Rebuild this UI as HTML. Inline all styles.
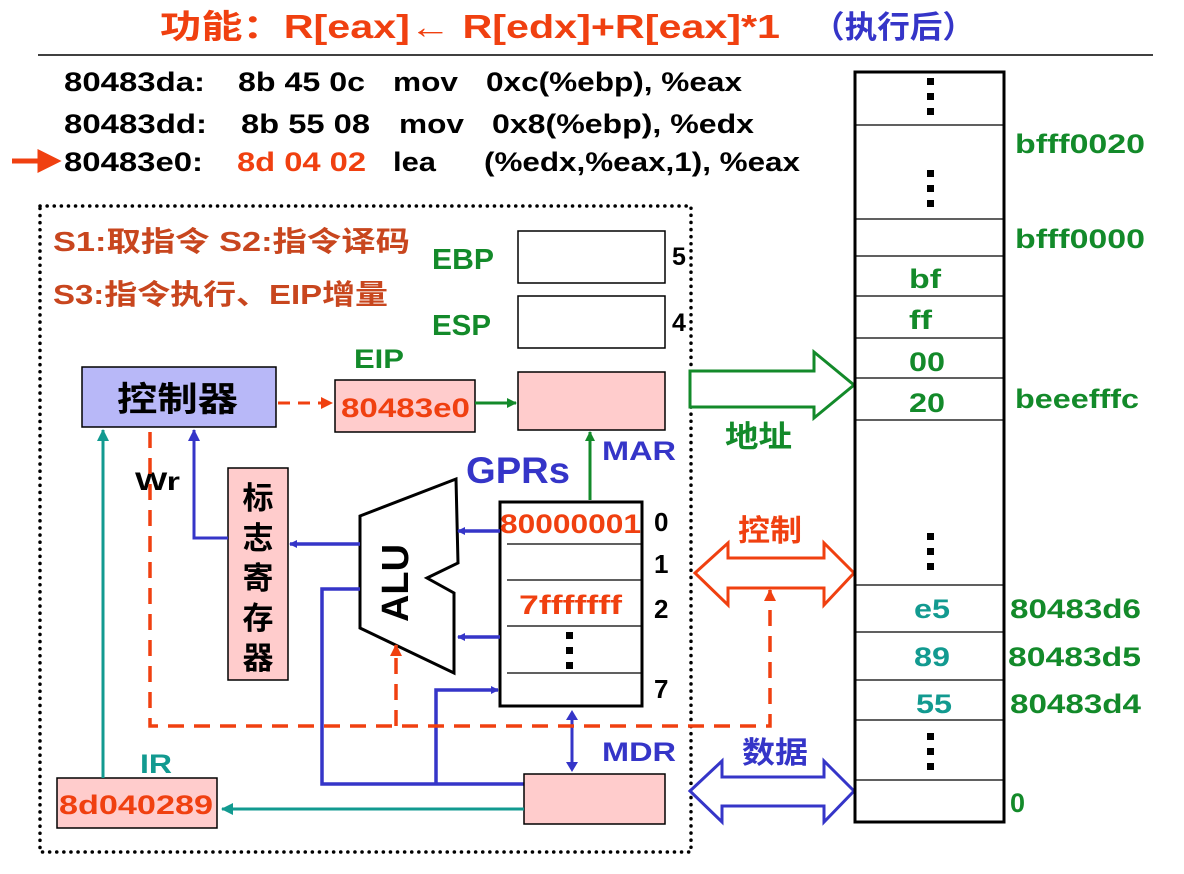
<!DOCTYPE html>
<html><head><meta charset="utf-8"><style>
body{margin:0;background:#fff;}
svg text{font-family:"Liberation Sans","Noto Sans CJK SC",sans-serif;font-weight:bold;}
</style></head><body>
<svg width="1184" height="869" viewBox="0 0 1184 869" xmlns="http://www.w3.org/2000/svg">
<defs>
<marker id="ab" markerWidth="8" markerHeight="8" refX="7" refY="4" orient="auto" markerUnits="userSpaceOnUse"><path d="M0,0 L8,4 L0,8z" fill="#3535c8"/></marker>
<marker id="ag" markerWidth="10" markerHeight="10" refX="9" refY="5" orient="auto" markerUnits="userSpaceOnUse"><path d="M0,0 L10,5 L0,10z" fill="#138a2a"/></marker>
<marker id="at" markerWidth="12" markerHeight="12" refX="11" refY="6" orient="auto" markerUnits="userSpaceOnUse"><path d="M0,0 L12,6 L0,12z" fill="#129a90"/></marker>
<marker id="ar" markerWidth="12" markerHeight="12" refX="11" refY="6" orient="auto" markerUnits="userSpaceOnUse"><path d="M0,0 L12,6 L0,12z" fill="#f04010"/></marker>
<marker id="abl" markerWidth="12" markerHeight="12" refX="11" refY="6" orient="auto" markerUnits="userSpaceOnUse"><path d="M0,0 L12,6 L0,12z" fill="#3535c8"/></marker>
</defs>
<text x="160" y="38" font-size="33" fill="#f04010" textLength="620" lengthAdjust="spacingAndGlyphs">功能：R[eax]← R[edx]+R[eax]*1</text>
<text x="812" y="38" font-size="31" fill="#3535c8" textLength="163" lengthAdjust="spacingAndGlyphs">（执行后）</text>
<line x1="38" y1="55" x2="1153" y2="55" stroke="#000" stroke-width="1.5"/>
<g font-size="27" fill="#000" lengthAdjust="spacingAndGlyphs">
<text x="64" y="91" textLength="141" lengthAdjust="spacingAndGlyphs">80483da:</text><text x="238" y="91" textLength="127" lengthAdjust="spacingAndGlyphs">8b 45 0c</text><text x="393" y="91" textLength="65" lengthAdjust="spacingAndGlyphs">mov</text><text x="486" y="91" textLength="256" lengthAdjust="spacingAndGlyphs">0xc(%ebp), %eax</text>
<text x="64" y="133" textLength="143" lengthAdjust="spacingAndGlyphs">80483dd:</text><text x="241" y="133" textLength="129" lengthAdjust="spacingAndGlyphs">8b 55 08</text><text x="399" y="133" textLength="65" lengthAdjust="spacingAndGlyphs">mov</text><text x="492" y="133" textLength="262" lengthAdjust="spacingAndGlyphs">0x8(%ebp), %edx</text>
<text x="64" y="171" textLength="139" lengthAdjust="spacingAndGlyphs">80483e0:</text><text x="237" y="171" fill="#f04010" textLength="129" lengthAdjust="spacingAndGlyphs">8d 04 02</text><text x="393" y="171" textLength="43" lengthAdjust="spacingAndGlyphs">lea</text><text x="484" y="171" textLength="316" lengthAdjust="spacingAndGlyphs">(%edx,%eax,1), %eax</text>
</g>
<path d="M12,161 L44,161 M40,153 L56,161 L40,169z" stroke="#f04010" stroke-width="5" fill="#f04010"/>
<rect x="40" y="206" width="651" height="646" fill="none" stroke="#000" stroke-width="3.5" stroke-dasharray="0.1 7" stroke-linecap="round"/>
<text x="53" y="251" font-size="28" fill="#c8461e" textLength="357" lengthAdjust="spacingAndGlyphs">S1:取指令   S2:指令译码</text>
<text x="53" y="304" font-size="28" fill="#c8461e" textLength="335" lengthAdjust="spacingAndGlyphs">S3:指令执行、EIP增量</text>
<text x="432" y="269" font-size="29" fill="#138a2a" textLength="62" lengthAdjust="spacingAndGlyphs">EBP</text>
<text x="432" y="335" font-size="29" fill="#138a2a" textLength="59" lengthAdjust="spacingAndGlyphs">ESP</text>
<rect x="518" y="231" width="147" height="52" fill="#fff" stroke="#000" stroke-width="1.5"/>
<rect x="518" y="296" width="147" height="52" fill="#fff" stroke="#000" stroke-width="1.5"/>
<text x="672" y="265" font-size="25" fill="#000">5</text>
<text x="672" y="331" font-size="25" fill="#000">4</text>
<text x="354" y="368" font-size="27" fill="#138a2a" textLength="50" lengthAdjust="spacingAndGlyphs">EIP</text>
<rect x="82" y="367" width="194" height="60" fill="#b8b8f8" stroke="#000" stroke-width="1.5"/>
<text x="117" y="411" font-size="34" fill="#000" textLength="121" lengthAdjust="spacingAndGlyphs">控制器</text>
<line x1="278" y1="403" x2="332" y2="403" stroke="#f04010" stroke-width="3" stroke-dasharray="12 8" marker-end="url(#ar)"/>
<rect x="335" y="380" width="140" height="52" fill="#ffcccc" stroke="#000" stroke-width="1.5"/>
<text x="341" y="417" font-size="27" fill="#f04010" textLength="129" lengthAdjust="spacingAndGlyphs">80483e0</text>
<line x1="475" y1="403" x2="516" y2="403" stroke="#138a2a" stroke-width="3" marker-end="url(#ag)"/>
<rect x="518" y="372" width="147" height="58" fill="#ffcccc" stroke="#000" stroke-width="1.5"/>
<text x="602" y="460" font-size="27" fill="#3535c8" textLength="74" lengthAdjust="spacingAndGlyphs">MAR</text>
<text x="466" y="483" font-size="37" fill="#3535c8" textLength="104" lengthAdjust="spacingAndGlyphs">GPRs</text>
<line x1="590" y1="500" x2="590" y2="432" stroke="#138a2a" stroke-width="3" marker-end="url(#ag)"/>
<rect x="500" y="502" width="142" height="204" fill="#fff" stroke="#000" stroke-width="3"/>
<g stroke="#000" stroke-width="1.2"><line x1="507" y1="544" x2="641" y2="544"/><line x1="507" y1="580" x2="641" y2="580"/><line x1="507" y1="626" x2="641" y2="626"/><line x1="507" y1="673" x2="641" y2="673"/></g>
<text x="500" y="533" font-size="27" fill="#f04010" textLength="141" lengthAdjust="spacingAndGlyphs">80000001</text>
<text x="519" y="614" font-size="27" fill="#f04010" textLength="103" lengthAdjust="spacingAndGlyphs">7fffffff</text>
<rect x="566" y="632" width="7" height="7" fill="#000"/><rect x="566" y="647" width="7" height="7" fill="#000"/><rect x="566" y="662" width="7" height="7" fill="#000"/>
<g font-size="26" fill="#000"><text x="654" y="531">0</text><text x="654" y="573">1</text><text x="654" y="618">2</text><text x="654" y="698">7</text></g>
<path d="M360,516 L456,479 L458,563 L427,578 L454,593 L454,673 L360,628 Z" fill="#fff" stroke="#000" stroke-width="3"/>
<text transform="translate(408,622) rotate(-90)" font-size="38" fill="#000" textLength="78" lengthAdjust="spacingAndGlyphs">ALU</text>
<line x1="500" y1="531" x2="458" y2="531" stroke="#3535c8" stroke-width="3.5" marker-end="url(#ab)"/>
<line x1="500" y1="637" x2="458" y2="637" stroke="#3535c8" stroke-width="3.5" marker-end="url(#ab)"/>
<line x1="360" y1="544" x2="290" y2="544" stroke="#3535c8" stroke-width="3.5" marker-end="url(#ab)"/>
<rect x="228" y="468" width="60" height="212" fill="#ffcccc" stroke="#000" stroke-width="1.5"/>
<g font-size="31" fill="#000" text-anchor="middle"><text x="258" y="509">标</text><text x="258" y="549">志</text><text x="258" y="589">寄</text><text x="258" y="629">存</text><text x="258" y="669">器</text></g>
<polyline points="228,538 194,538 194,430" fill="none" stroke="#3535c8" stroke-width="3" marker-end="url(#abl)"/>
<text x="135" y="490" font-size="25" fill="#000" textLength="45" lengthAdjust="spacingAndGlyphs">Wr</text>
<polyline points="360,589 322,589 322,784 524,784" fill="none" stroke="#3535c8" stroke-width="3.5"/>
<polyline points="436,784 436,690 498,690" fill="none" stroke="#3535c8" stroke-width="3.5" marker-end="url(#ab)"/>
<rect x="524" y="774" width="141" height="50" fill="#ffcccc" stroke="#000" stroke-width="1.5"/>
<text x="602" y="761" font-size="27" fill="#3535c8" textLength="74" lengthAdjust="spacingAndGlyphs">MDR</text>
<line x1="572" y1="720" x2="572" y2="762" stroke="#3535c8" stroke-width="3"/>
<path d="M566,720 L572,710 L578,720z M566,762 L572,772 L578,762z" fill="#3535c8"/>
<rect x="57" y="778" width="160" height="50" fill="#ffcccc" stroke="#000" stroke-width="1.5"/>
<text x="59" y="814" font-size="27" fill="#f04010" textLength="154" lengthAdjust="spacingAndGlyphs">8d040289</text>
<text x="140" y="773" font-size="27" fill="#129a90" textLength="32" lengthAdjust="spacingAndGlyphs">IR</text>
<line x1="524" y1="809" x2="222" y2="809" stroke="#129a90" stroke-width="3" marker-end="url(#at)"/>
<line x1="103" y1="778" x2="103" y2="430" stroke="#129a90" stroke-width="3" marker-end="url(#at)"/>
<polyline points="150,432 150,726 770,726 770,590" fill="none" stroke="#f04010" stroke-width="3.5" stroke-dasharray="16 10" marker-end="url(#ar)"/>
<line x1="396" y1="726" x2="396" y2="645" stroke="#f04010" stroke-width="3.5" stroke-dasharray="16 10" marker-end="url(#ar)"/>
<path d="M690,371 L814,371 L814,352 L854,385 L814,418 L814,407 L690,407 Z" fill="#fff" stroke="#138a2a" stroke-width="3"/>
<text x="725" y="447" font-size="30" fill="#138a2a" textLength="67" lengthAdjust="spacingAndGlyphs">地址</text>
<path d="M695,573 L728,543 L728,558 L824,558 L824,543 L854,573 L824,605 L824,588 L728,588 L728,605 Z" fill="#fff" stroke="#f04010" stroke-width="3"/>
<text x="738" y="541" font-size="30" fill="#f04010" textLength="64" lengthAdjust="spacingAndGlyphs">控制</text>
<path d="M690,791 L722,761 L722,777 L824,777 L824,761 L854,791 L824,822 L824,806 L722,806 L722,822 Z" fill="#fff" stroke="#3535c8" stroke-width="3"/>
<text x="742" y="763" font-size="30" fill="#3535c8" textLength="66" lengthAdjust="spacingAndGlyphs">数据</text>
<rect x="855" y="72" width="149" height="750" fill="#fff" stroke="#000" stroke-width="3"/>
<g stroke="#000" stroke-width="1.2">
<line x1="855" y1="125" x2="1004" y2="125"/><line x1="855" y1="219" x2="1004" y2="219"/><line x1="855" y1="256" x2="1004" y2="256"/><line x1="855" y1="296" x2="1004" y2="296"/><line x1="855" y1="338" x2="1004" y2="338"/><line x1="855" y1="378" x2="1004" y2="378"/><line x1="855" y1="420" x2="1004" y2="420"/><line x1="855" y1="585" x2="1004" y2="585"/><line x1="855" y1="632" x2="1004" y2="632"/><line x1="855" y1="680" x2="1004" y2="680"/><line x1="855" y1="720" x2="1004" y2="720"/><line x1="855" y1="780" x2="1004" y2="780"/>
</g>
<g fill="#000">
<rect x="927" y="78" width="7" height="7"/><rect x="927" y="93" width="7" height="7"/><rect x="927" y="108" width="7" height="7"/>
<rect x="927" y="170" width="7" height="7"/><rect x="927" y="185" width="7" height="7"/><rect x="927" y="200" width="7" height="7"/>
<rect x="927" y="533" width="7" height="7"/><rect x="927" y="548" width="7" height="7"/><rect x="927" y="563" width="7" height="7"/>
<rect x="927" y="733" width="7" height="7"/><rect x="927" y="748" width="7" height="7"/><rect x="927" y="763" width="7" height="7"/>
</g>
<g font-size="27" fill="#138a2a">
<text x="909" y="288" textLength="32" lengthAdjust="spacingAndGlyphs">bf</text><text x="909" y="329" textLength="23" lengthAdjust="spacingAndGlyphs">ff</text><text x="909" y="371" textLength="36" lengthAdjust="spacingAndGlyphs">00</text><text x="909" y="412" textLength="36" lengthAdjust="spacingAndGlyphs">20</text>
</g>
<g font-size="27" fill="#129a90">
<text x="914" y="618" textLength="36" lengthAdjust="spacingAndGlyphs">e5</text><text x="914" y="666" textLength="36" lengthAdjust="spacingAndGlyphs">89</text><text x="916" y="713" textLength="36" lengthAdjust="spacingAndGlyphs">55</text>
</g>
<g font-size="27" fill="#138a2a">
<text x="1015" y="153" textLength="130" lengthAdjust="spacingAndGlyphs">bfff0020</text><text x="1015" y="248" textLength="130" lengthAdjust="spacingAndGlyphs">bfff0000</text><text x="1015" y="408" textLength="124" lengthAdjust="spacingAndGlyphs">beeefffc</text>
<text x="1010" y="618" textLength="131" lengthAdjust="spacingAndGlyphs">80483d6</text><text x="1008" y="666" textLength="133" lengthAdjust="spacingAndGlyphs">80483d5</text><text x="1010" y="713" textLength="131" lengthAdjust="spacingAndGlyphs">80483d4</text><text x="1010" y="812">0</text>
</g>
</svg>
</body></html>
